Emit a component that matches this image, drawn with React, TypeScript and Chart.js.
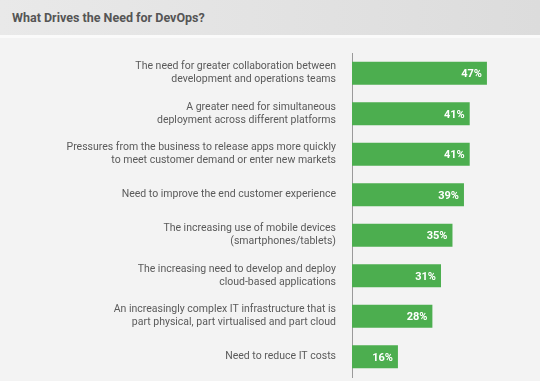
import React, { useEffect, useRef } from "react";
import { Chart, registerables } from "chart.js";

Chart.register(...registerables);

const categories: string[][] = [
  ["The need for greater collaboration between", "development and operations teams"],
  ["A greater need for simultaneous", "deployment across different platforms"],
  ["Pressures from the business to release apps more quickly", "to meet customer demand or enter new markets"],
  ["Need to improve the end customer experience"],
  ["The increasing use of mobile devices", "(smartphones/tablets)"],
  ["The increasing need to develop and deploy", "cloud-based applications"],
  ["An increasingly complex IT infrastructure that is", "part physical, part virtualised and part cloud"],
  ["Need to reduce IT costs"],
];
const values: number[] = [47, 41, 41, 39, 35, 31, 28, 16];
const title = "What Drives the Need for DevOps?";

const FONT = "Roboto, 'Open Sans', sans-serif";

const valueLabels = {
  id: "valueLabels",
  afterDatasetsDraw(chart: any) {
    const ctx = chart.ctx;
    const meta = chart.getDatasetMeta(0);
    ctx.save();
    ctx.fillStyle = "#ffffff";
    ctx.font = `bold 11px ${FONT}`;
    ctx.textAlign = "right";
    ctx.textBaseline = "middle";
    meta.data.forEach((bar: any, i: number) => {
      ctx.fillText(values[i] + "%", bar.x - 5, bar.y + 1);
    });
    ctx.restore();
  },
};

export default function App() {
  const ref = useRef<HTMLCanvasElement>(null);
  useEffect(() => {
    document.body.style.margin = "0";
    const chart = new Chart(ref.current!, {
      type: "bar",
      data: {
        labels: categories,
        datasets: [
          {
            data: values,
            backgroundColor: "#4cae4f",
            borderWidth: 0,
            barPercentage: 0.57,
            categoryPercentage: 1,
          },
        ],
      },
      options: {
        indexAxis: "y",
        animation: false,
        responsive: false,
        maintainAspectRatio: false,
        layout: { padding: { top: 53, bottom: 4, left: 0, right: 10 } },
        plugins: { legend: { display: false }, tooltip: { enabled: false } },
        scales: {
          x: { display: false, min: 0, max: 62 },
          y: {
            afterFit: (s: any) => {
              s.width = 352;
              s.paddingTop = 0;
              s.paddingBottom = 0;
            },
            grid: { display: false },
            border: { display: true, color: "#9a9a9a", width: 1 },
            ticks: {
              padding: 8,
              color: "#5a5a5a",
              font: { family: FONT, size: 10.5, lineHeight: 1.25 },
            },
          },
        },
      },
      plugins: [valueLabels],
    });
    return () => chart.destroy();
  }, []);
  return (
    <div style={{ position: "relative", width: 540, height: 381, background: "#f3f3f3", overflow: "hidden" }}>
      <div
        style={{
          position: "absolute",
          left: 0,
          top: 0,
          width: 540,
          height: 35,
          background: "linear-gradient(to right, #e9e9e9, #dcdcdc)",
          borderBottom: "3px solid #fafafa",
        }}
      >
        <div
          style={{
            position: "absolute",
            left: 12,
            top: 10,
            fontFamily: FONT,
            fontWeight: "bold",
            fontSize: 12.5,
            color: "#555",
            whiteSpace: "nowrap",
          }}
        >
          {title}
        </div>
      </div>
      <canvas ref={ref} width={540} height={381} style={{ position: "absolute", left: 0, top: 0 }} />
    </div>
  );
}
